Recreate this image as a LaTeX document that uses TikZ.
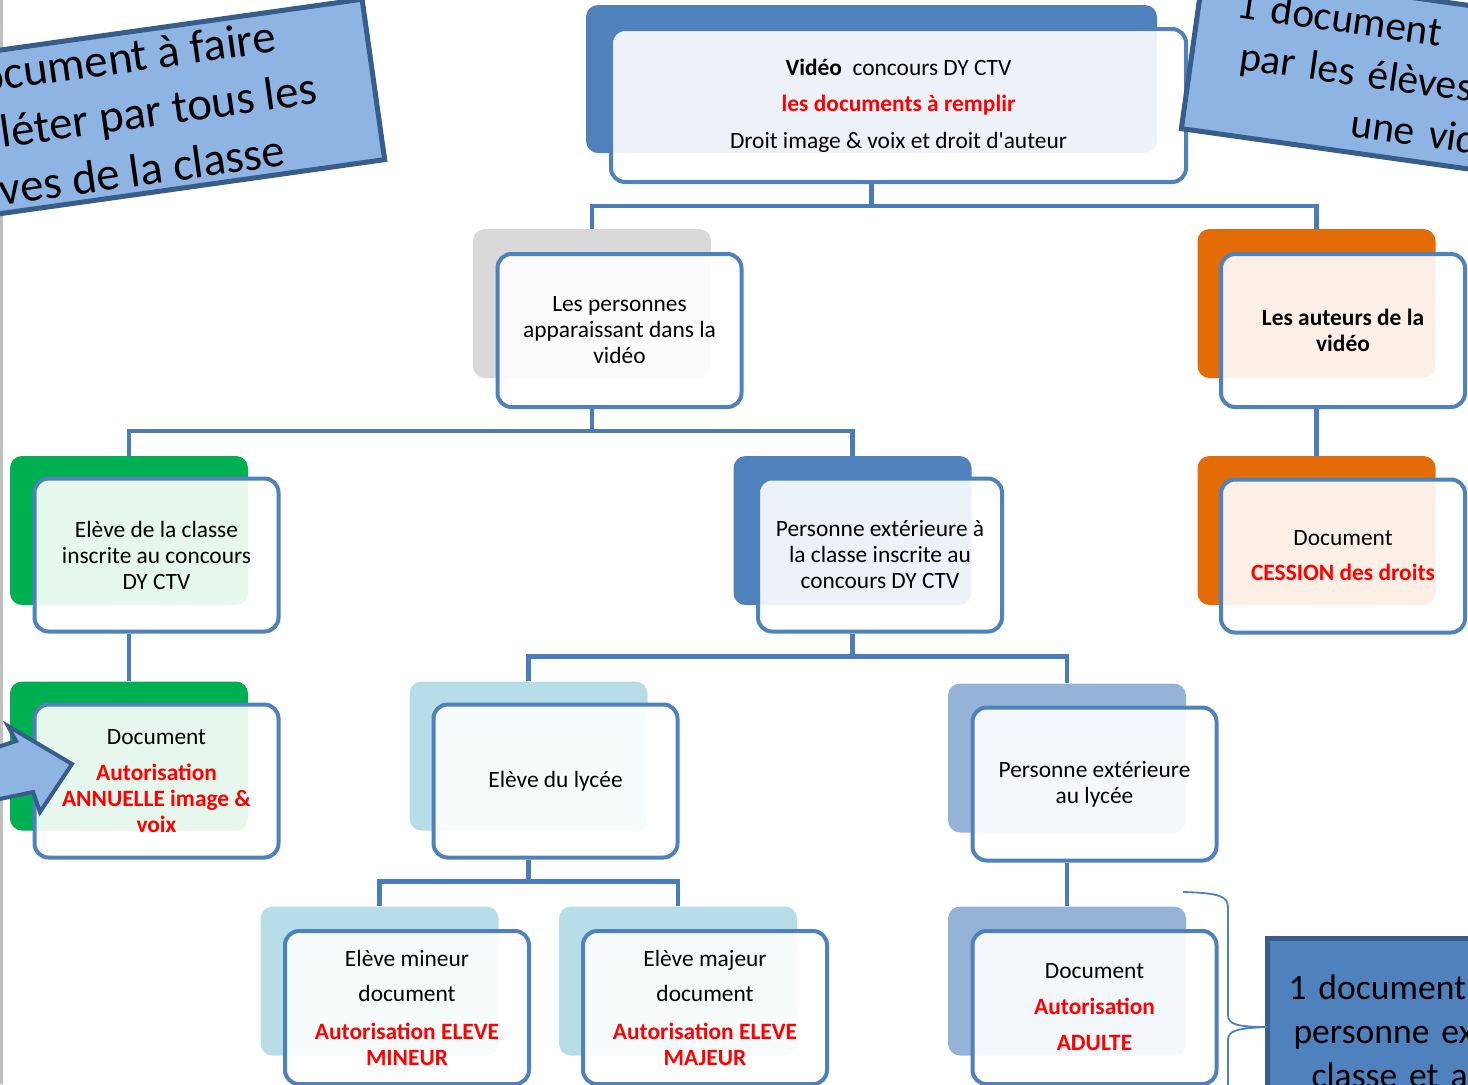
\documentclass[tikz,border=0pt]{standalone}
\usepackage{fontspec}
\setmainfont{Carlito}
\usepackage{xcolor}
\usepackage{tikz}

\definecolor{boxblue}{HTML}{4F81BD}
\definecolor{edgeblue}{HTML}{4F81BD}
\definecolor{linkblue}{HTML}{4A7CB9}
\definecolor{darkblue}{HTML}{385D8A}
\definecolor{noteblue}{HTML}{8EB4E3}
\definecolor{boxgray}{HTML}{D9D9D9}
\definecolor{boxorange}{HTML}{E36C09}
\definecolor{boxgreen}{HTML}{00B050}
\definecolor{boxcyan}{HTML}{B7DDE8}
\definecolor{boxsteel}{HTML}{95B3D7}
\newcommand{\rouge}[1]{\textcolor{red}{\textbf{#1}}}

\begin{document}
\begin{tikzpicture}[x=0.5pt, y=-0.5pt,
        back/.style={rounded corners=6pt, minimum width=119pt, minimum height=74.5pt, inner sep=0pt},
        front/.style={draw=edgeblue, line width=2pt, rounded corners=7pt, fill=white, fill opacity=0.9, text opacity=1,
            minimum width=122pt, minimum height=76.5pt, inner sep=2pt, align=center, font=\fontsize{11.7}{13}\selectfont},
        link/.style={draw=linkblue, line width=2.3pt},
        note/.style={draw=darkblue, line width=2.5pt, fill=noteblue, align=center}]
        \clip (0,0) rectangle (1468,1084);
        \fill[gray!50] (0,0) rectangle (3,1084);

        % top
        \node[back, fill=boxblue, minimum width=285.5pt, minimum height=74pt] (videoB) at (871.5,79) {};
        \node[front, minimum width=287.5pt] (video) at (898.5,105.5) {\textbf{Vidéo}\ \ concours DY CTV\\[5.25pt]\rouge{les documents à remplir}\\[5.25pt]Droit image \& voix et droit d\textquotesingle auteur};

        % second row
        \node[back, fill=boxgray] (persB) at (592,303.5) {};
        \node[front] (pers) at (619.5,330.5) {Les personnes\\apparaissant dans la\\vidéo};
        \node[back, fill=boxorange] (autB) at (1316.5,303.5) {};
        \node[front] (aut) at (1343,330.5) {\textbf{Les auteurs de la}\\\textbf{vidéo}};

        % third row
        \node[back, fill=boxgreen] (classeB) at (129,530.5) {};
        \node[front] (classe) at (156.5,555) {Elève de la classe\\inscrite au concours\\DY CTV};
        \node[back, fill=boxblue] (extB) at (852.5,530.5) {};
        \node[front] (ext) at (880,555) {Personne extérieure à\\la classe inscrite au\\concours DY CTV};
        \node[back, fill=boxorange] (cessB) at (1316.5,530.5) {};
        \node[front] (cess) at (1343,556) {Document\\[4.5pt]\rouge{CESSION des droits}};

        % fourth row
        \node[back, fill=boxgreen] (annuB) at (129,756) {};
        \node[front] (annu) at (156.5,781) {Document\\[5pt]\rouge{Autorisation}\\\rouge{ANNUELLE image \&}\\\rouge{voix}};
        \node[back, fill=boxcyan] (lyceeB) at (528.5,756) {};
        \node[front] (lycee) at (555.5,781) {Elève du lycée};
        \node[back, fill=boxsteel] (pextB) at (1067,758) {};
        \node[front] (pext) at (1094.5,784) {Personne extérieure\\au lycée};

        % bottom row
        \node[back, fill=boxcyan] (mineurB) at (379.5,981) {};
        \node[front] (mineur) at (407,1007.5) {Elève mineur\\[4.5pt]document\\[6pt]\rouge{Autorisation ELEVE}\\\rouge{MINEUR}};
        \node[back, fill=boxcyan] (majeurB) at (678,981) {};
        \node[front] (majeur) at (705,1007.5) {Elève majeur\\[4.5pt]document\\[6pt]\rouge{Autorisation ELEVE}\\\rouge{MAJEUR}};
        \node[back, fill=boxsteel] (adulteB) at (1067,981) {};
        \node[front] (adulte) at (1094.5,1007.5) {Document\\[5pt]\rouge{Autorisation}\\[5pt]\rouge{ADULTE}};

        % links
        \draw[link] (videoB.south |- video.south) -- ++(0,22) -| (persB.north);
        \draw[link] (videoB.south |- video.south) -- ++(0,22) -| (autB.north);
        \draw[link] (persB.south |- pers.south) -- ++(0,22) -| (classeB.north);
        \draw[link] (persB.south |- pers.south) -- ++(0,22) -| (extB.north);
        \draw[link] (autB.south |- aut.south) -- (cessB.north);
        \draw[link] (classeB.south |- classe.south) -- (annuB.north);
        \draw[link] (extB.south |- ext.south) -- ++(0,23) -| (lyceeB.north);
        \draw[link] (extB.south |- ext.south) -- ++(0,23) -| (pextB.north);
        \draw[link] (lyceeB.south |- lycee.south) -- ++(0,22) -| (mineurB.north);
        \draw[link] (lyceeB.south |- lycee.south) -- ++(0,22) -| (majeurB.north);
        \draw[link] (pextB.south |- pext.south) -- (adulteB.north);

        % notes
        \node[note, rotate=8, minimum width=270pt, minimum height=81pt, font=\fontsize{23.4}{28.5}\selectfont] (noteA) at (106,117) {1 document à faire\\compléter par tous les\\élèves de la classe};
        \node[note, rotate=-8, minimum width=270pt, minimum height=81pt, text width=232pt, align=left, font=\fontsize{20.7}{25.5}\selectfont] (noteB) at (1460,86) {1 document\ \ à\\\hspace*{5pt}par les élèves\\\hspace*{65pt}une vidéo};
        \node[note, fill=boxblue, anchor=north west, text width=220pt, inner xsep=10.5pt, inner ysep=18pt, align=left, font=\fontsize{17.8}{22}\selectfont] (noteC) at (1265,936) {1 document\\\hspace*{2.5pt}personne ex\\\hspace*{11.5pt}classe et a};

        % arrow and brace
        \draw[draw=darkblue, line width=2pt, fill=noteblue] (-5,748) -- (16,741) -- (8,726) -- (72,764) -- (40,812) -- (33,792) -- (-5,800) -- cycle;
        \draw[edgeblue, line width=0.9pt] (1183,892) .. controls (1222,893) and (1228,897) .. (1228,908) -- (1228,1015)
            .. controls (1228,1024) and (1236,1027) .. (1268,1027) .. controls (1236,1028) and (1228,1031) .. (1228,1040) -- (1228,1090);
    \end{tikzpicture}
\end{document}
